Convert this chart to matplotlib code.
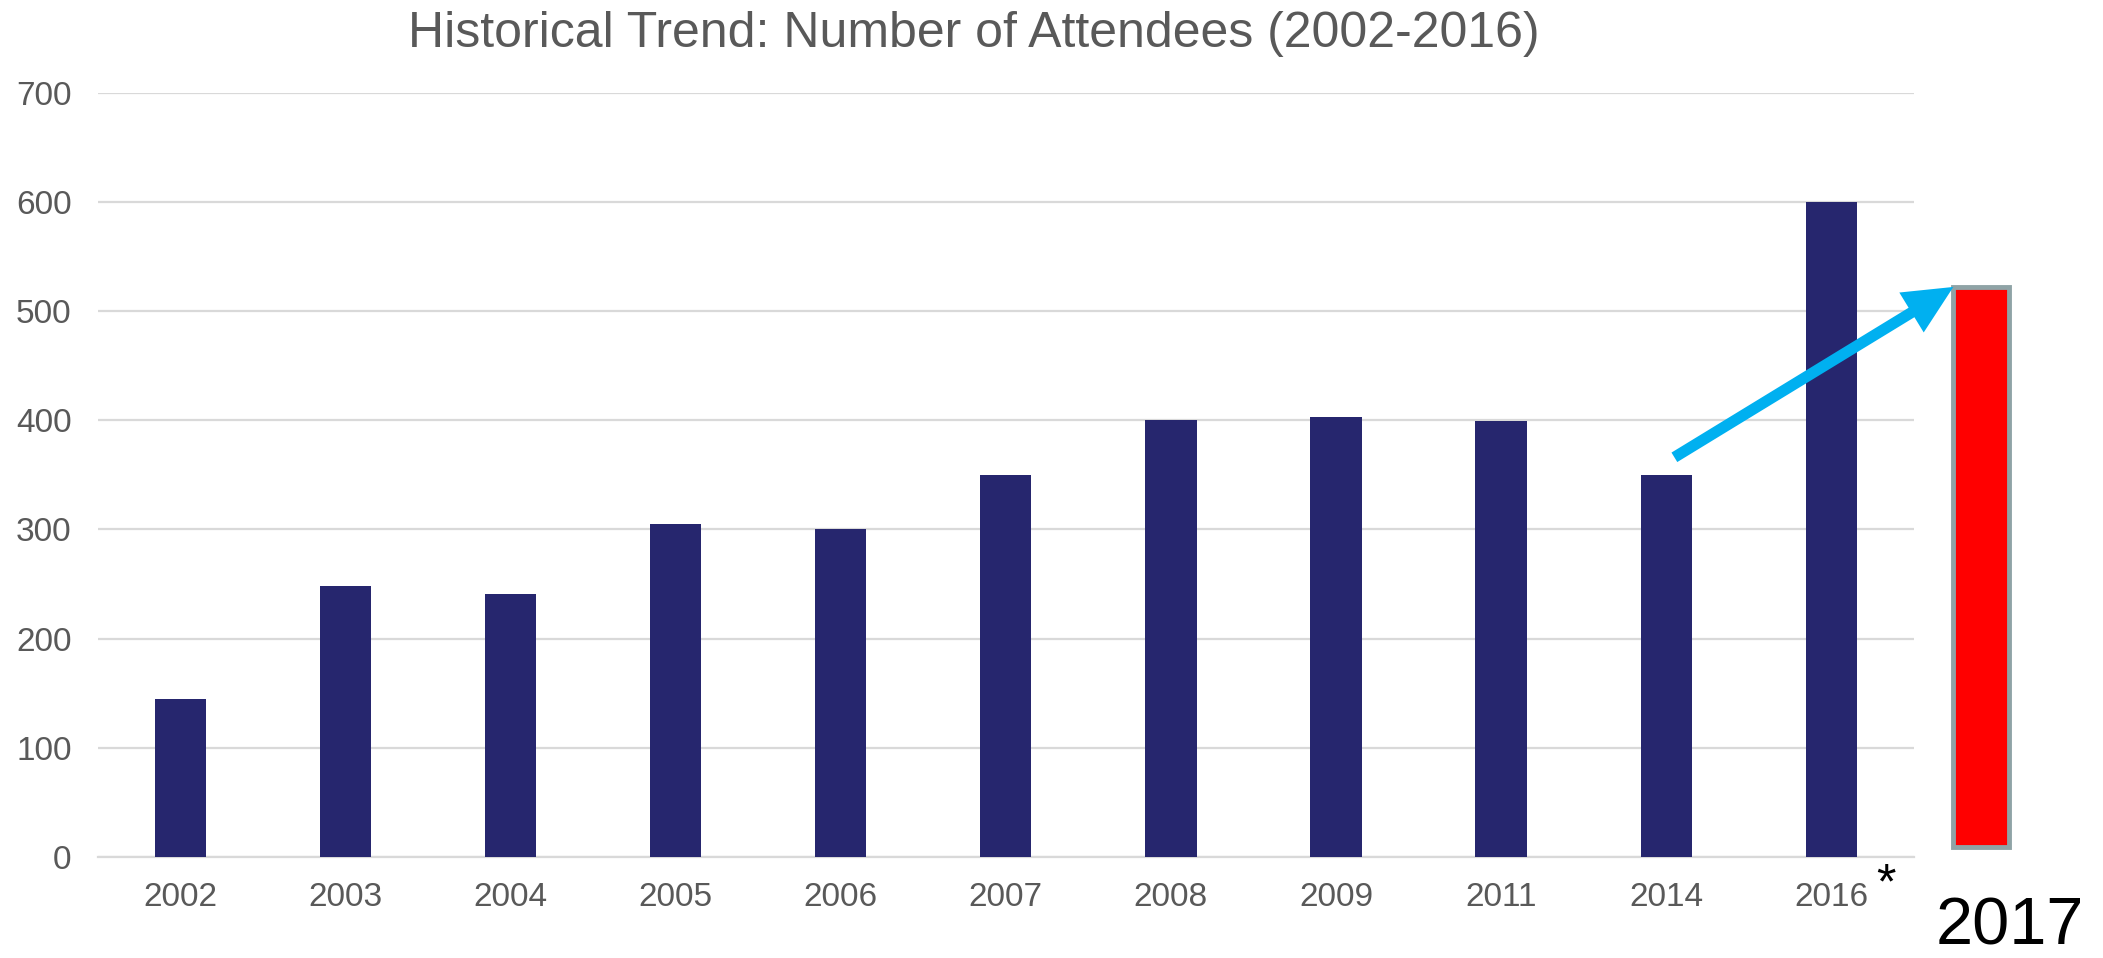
import matplotlib.pyplot as plt
from matplotlib.patches import FancyArrowPatch

plt.rcParams['font.family'] = ['Liberation Sans', 'DejaVu Sans']

years = ['2002', '2003', '2004', '2005', '2006', '2007', '2008', '2009', '2011', '2014', '2016']
attendees = [145, 248, 241, 305, 300, 350, 400, 403, 399, 350, 600]

# 2017 projection (drawn as a separate red bar beside the chart)
year_2017 = '2017'
attendees_2017 = 522
base_2017 = 9

fig = plt.figure(figsize=(21.03, 9.58), dpi=100)
ax = fig.add_axes([0.0466, 0.1054, 0.8634, 0.798])

x = list(range(len(years)))
ax.bar(x, attendees, width=0.31, color='#26266E', zorder=3)

# Set limits and grid
ax.set_xlim(-0.5, len(years) - 0.5)
ax.set_ylim(0, 700)
ax.set_yticks(range(0, 701, 100))
ax.grid(axis='y', color='#D9D9D9', linewidth=1.6, zorder=0)
ax.set_xticks(x)
ax.set_xticklabels(years)
for side in ['top', 'right', 'left']:
  ax.spines[side].set_visible(False)
ax.spines['bottom'].set_color('#D9D9D9')
ax.spines['bottom'].set_linewidth(1.6)
ax.tick_params(axis='both', length=0, labelsize=24, colors='#595959')
ax.tick_params(axis='x', pad=18)
ax.tick_params(axis='y', pad=19)

# Title
fig.text(0.463, 0.988, 'Historical Trend: Number of Attendees (2002-2016)',
         ha='center', va='top', fontsize=36, color='#595959')

# Red 2017 bar outside the axes
x17 = len(years) - 0.5 + 0.41
ax.bar([x17], [attendees_2017 - base_2017], bottom=base_2017, width=0.34,
       color='#FF0000', edgecolor='#8FA3A6', linewidth=3.5, clip_on=False, zorder=4)

# Arrow from the 2014 bar towards the 2017 bar
arrow = FancyArrowPatch((9.05, 366), (x17 - 0.17, attendees_2017),
                        arrowstyle='-|>,head_length=2.2,head_width=1.05',
                        mutation_scale=10, color='#00B0F0', lw=8,
                        shrinkA=0, shrinkB=0, capstyle='butt', joinstyle='miter',
                        clip_on=False, zorder=5)
ax.add_patch(arrow)

ax.text(10.33, -5, '*', ha='center', va='top', fontsize=36, color='black')
ax.text(x17 + 0.17, -36, year_2017, ha='center', va='top', fontsize=48, color='black')

plt.savefig('out.png', dpi=100)
